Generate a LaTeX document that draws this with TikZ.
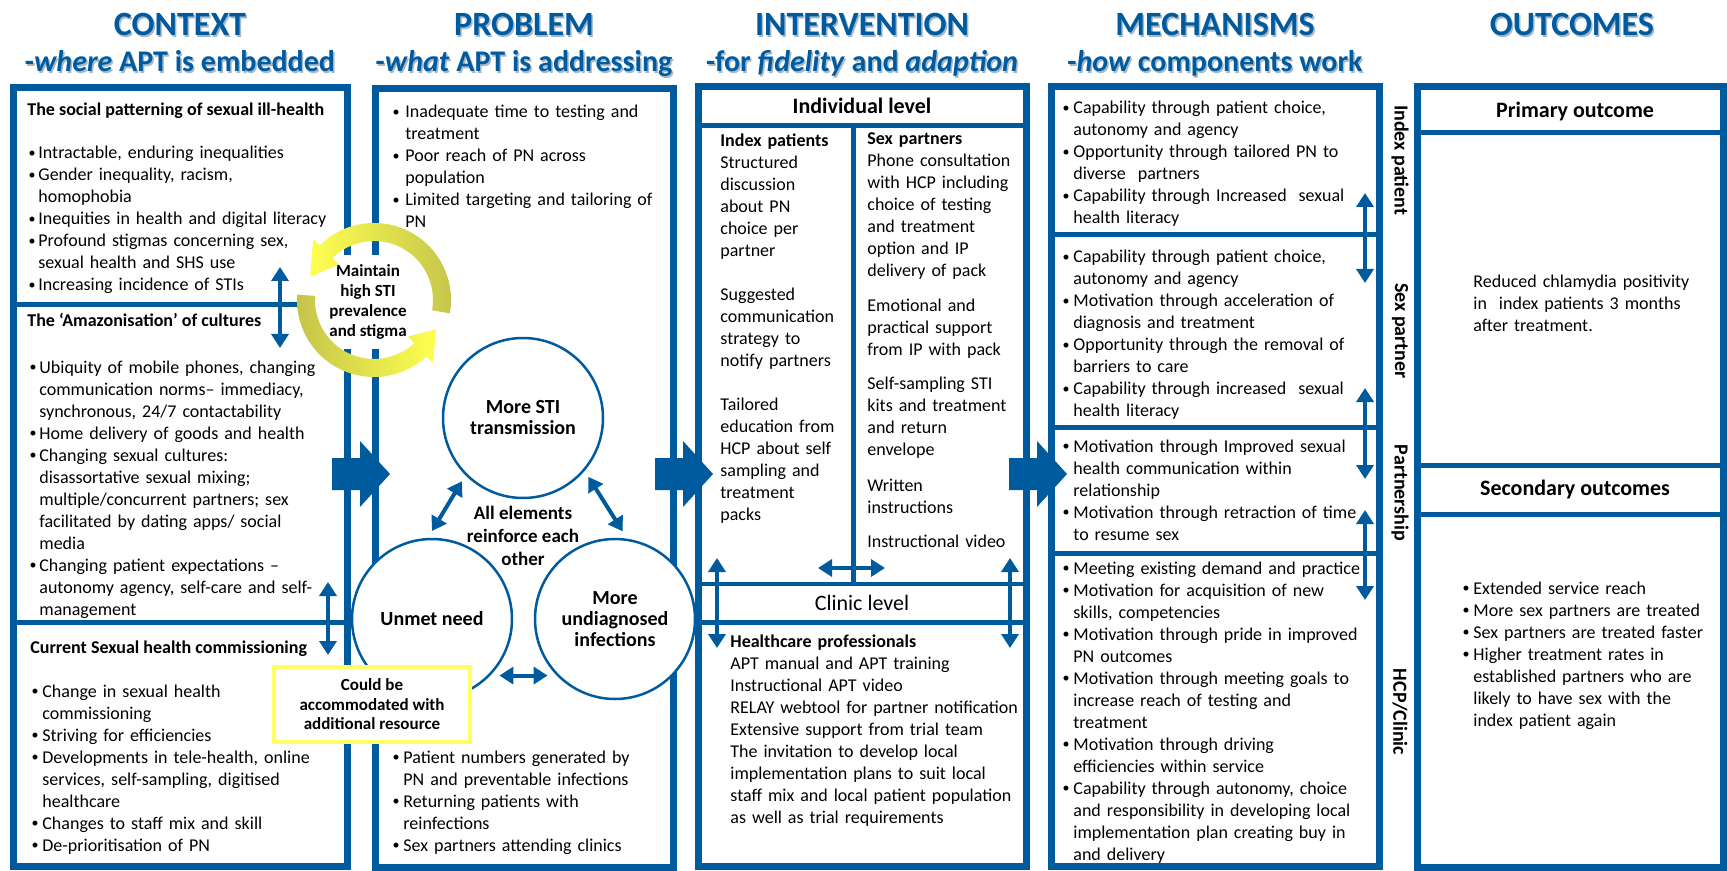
\documentclass[tikz,border=0pt]{standalone}
\usepackage{fontspec}
\setmainfont{Carlito}
\usetikzlibrary{arrows.meta,calc}
\definecolor{apt}{RGB}{0,91,158}
\definecolor{shd}{RGB}{165,185,205}
\definecolor{ylw}{RGB}{255,255,80}
\definecolor{olv}{RGB}{195,195,75}
\definecolor{ybox}{RGB}{255,255,100}
\newlength{\bw}
\newcommand{\Bu}{\makebox[\bw][l]{\hspace{0.6pt}\raisebox{0.2ex}{\fontsize{7}{7}\selectfont\textbullet}}}
\newcommand{\Cn}{\hspace*{\bw}}
\newcommand{\blockarrow}[1]{\fill[apt] (#1) ++(0,-16) -- ++(28,0) -- ++(0,-17) -- ++(30,33) -- ++(-30,33) -- ++(0,-17) -- ++(-28,0) -- cycle;}
\begin{document}
\begin{tikzpicture}[x=0.5pt,y=-0.5pt,
  colbox/.style={draw=apt, line width=3.5pt, inner sep=0pt, outer sep=0pt},
  divider/.style={draw=apt, line width=2.5pt},
  body/.style={font=\fontsize{9}{11}\selectfont, align=left, inner sep=0pt, anchor=base west, text width=220pt},
  bhead/.style={font=\fontsize{9}{11}\selectfont\bfseries, inner sep=0pt, anchor=base west},
  lvl/.style={font=\fontsize{11}{13}\selectfont, inner sep=0pt, anchor=base},
  title/.style={font=\fontsize{17}{20}\selectfont\bfseries, text=apt, inner sep=0pt, anchor=base},
  subtitle/.style={font=\fontsize{15}{18}\selectfont\bfseries, text=apt, inner sep=0pt, anchor=base},
  shadow/.style={text=shd},
  circ/.style={circle, draw=apt, line width=1.25pt, fill=white, minimum size=80pt, inner sep=0pt, outer sep=4pt, align=center, font=\fontsize{10}{10.5}\selectfont\bfseries},
  dbl/.style={draw=apt, line width=2pt, {Triangle[length=7pt,width=8.5pt]}-{Triangle[length=7pt,width=8.5pt]}},
  side/.style={rotate=-90, font=\fontsize{10}{12}\selectfont\bfseries, inner sep=0pt},
  bulw/.style={execute at begin node={\setlength{\bw}{#1}}},
]
\fill[white] (0,0) rectangle (1727,871);
\useasboundingbox (0,0) rectangle (1727,871);

% ---------- titles (shadow, then text) ----------
\node[title, shadow] (t1s) at (181.5,37.5) {CONTEXT};
\node[subtitle, shadow] (s1s) at (181.5,73.5) {-\textit{where} APT is embedded};
\node[title, shadow] (t2s) at (525.5,37.5) {PROBLEM};
\node[subtitle, shadow] (s2s) at (525.5,73.5) {-\textit{what} APT is addressing};
\node[title, shadow] (t3s) at (863.5,37.5) {INTERVENTION};
\node[subtitle, shadow] (s3s) at (863.5,73.5) {-for \textit{fidelity} and \textit{adaption}};
\node[title, shadow] (t4s) at (1216.5,37.5) {MECHANISMS};
\node[subtitle, shadow] (s4s) at (1216.5,73.5) {-\textit{how} components work};
\node[title, shadow] (t5s) at (1573.5,37.5) {OUTCOMES};
\node[title] (t1) at (180,36) {CONTEXT};
\node[subtitle] (s1) at (180,72) {-\textit{where} APT is embedded};
\node[title] (t2) at (524,36) {PROBLEM};
\node[subtitle] (s2) at (524,72) {-\textit{what} APT is addressing};
\node[title] (t3) at (862,36) {INTERVENTION};
\node[subtitle] (s3) at (862,72) {-for \textit{fidelity} and \textit{adaption}};
\node[title] (t4) at (1215,36) {MECHANISMS};
\node[subtitle] (s4) at (1215,72) {-\textit{how} components work};
\node[title] (t5) at (1572,36) {OUTCOMES};

% ---------- column boxes ----------
\node[colbox, minimum width=167pt, minimum height=389.5pt] (ctx) at (180.5,477) {};
\node[colbox, minimum width=149pt, minimum height=389.5pt] (prb) at (524.5,478) {};
\node[colbox, minimum width=164pt, minimum height=390pt] (int) at (862.5,476.5) {};
\node[colbox, minimum width=164pt, minimum height=390pt] (mec) at (1215.5,476.5) {};
\node[colbox, minimum width=153pt, minimum height=390.5pt] (out) at (1570,477) {};

% ---------- dividers ----------
\draw[divider] (16,304.5) -- (347,304.5);
\draw[divider] (16,622.5) -- (358,622.5);
\draw[divider] (702,125.5) -- (1023,125.5);
\draw[divider] (853.5,128) -- (853.5,582);
\draw[draw=apt, line width=2pt] (702,583.5) -- (1023,583.5);
\draw[divider] (702,622.5) -- (1023,622.5);
\draw[divider] (1055,234.5) -- (1376,234.5);
\draw[divider] (1055,427.5) -- (1376,427.5);
\draw[divider] (1055,553.5) -- (1376,553.5);
\draw[divider] (1421,132.5) -- (1720,132.5);
\draw[divider] (1421,465.5) -- (1720,465.5);
\draw[divider] (1421,514.5) -- (1720,514.5);

% ---------- CONTEXT text ----------
\node[bhead] (ch1) at (27,116) {The social patterning of sexual ill-health};
\node[body, bulw=5.5pt] (cb1) at (27,159) {\Bu Intractable, enduring inequalities\\
\Bu Gender inequality, racism,\\
\Cn homophobia\\
\Bu Inequities in health and digital literacy\\
\Bu Profound stigmas concerning sex,\\
\Cn sexual health and SHS use\\
\Bu Increasing incidence of STIs};
\node[bhead] (ch2) at (27,327) {The ‘Amazonisation’ of cultures};
\node[body, bulw=5.5pt] (cb2) at (28,373) {\Bu Ubiquity of mobile phones, changing\\
\Cn communication norms– immediacy,\\
\Cn synchronous, 24/7 contactability\\
\Bu Home delivery of goods and health\\
\Bu Changing sexual cultures:\\
\Cn disassortative sexual mixing;\\
\Cn multiple/concurrent partners; sex\\
\Cn facilitated by dating apps/ social\\
\Cn media\\
\Bu Changing patient expectations –\\
\Cn autonomy agency, self-care and self-\\
\Cn management};
\node[bhead] (ch3) at (30,653) {Current Sexual health commissioning};
\node[body, bulw=6pt] (cb3) at (30,697) {\Bu Change in sexual health\\
\Cn commissioning\\
\Bu Striving for efficiencies\\
\Bu Developments in tele-health, online\\
\Cn services, self-sampling, digitised\\
\Cn healthcare\\
\Bu Changes to staff mix and skill\\
\Bu De-prioritisation of PN};

% ---------- PROBLEM text ----------
\node[body, bulw=7pt] (pb1) at (391,118) {\Bu Inadequate time to testing and\\
\Cn treatment\\
\Bu Poor reach of PN across\\
\Cn population\\
\Bu Limited targeting and tailoring of\\
\Cn PN};
\node[body, bulw=6pt] (pb2) at (391,763) {\Bu Patient numbers generated by\\
\Cn PN and preventable infections\\
\Bu Returning patients with\\
\Cn reinfections\\
\Bu Sex partners attending clinics};

% ---------- INTERVENTION text ----------
\node[lvl, font=\fontsize{11}{13}\selectfont\bfseries] (ind) at (862,114) {Individual level};
\node[body] (ip) at (720,147) {\textbf{Index patients}\\
Structured\\ discussion\\ about PN\\ choice per\\ partner\\[11pt]
Suggested\\ communication\\ strategy to\\ notify partners\\[11pt]
Tailored\\ education from\\ HCP about self\\ sampling and\\ treatment\\ packs};
\node[body] (sp) at (867,145) {\textbf{Sex partners}\\
Phone consultation\\ with HCP including\\ choice of testing\\ and treatment\\ option and IP\\ delivery of pack\\[6.5pt]
Emotional and\\ practical support\\ from IP with pack\\[6pt]
Self-sampling STI\\ kits and treatment\\ and return\\ envelope\\[7pt]
Written\\ instructions\\[6pt]
Instructional video};
\node[lvl] (cln) at (862,610) {Clinic level};
\node[body] (hcp) at (730,647) {\textbf{Healthcare professionals}\\
APT manual and APT training\\
Instructional APT video\\
RELAY webtool for partner notification\\
Extensive support from trial team\\
The invitation to develop local\\
implementation plans to suit local\\
staff mix and local patient population\\
as well as trial requirements};

% ---------- MECHANISMS text ----------
\node[body, bulw=6pt] (m1) at (1061,114) {\Bu Capability through patient choice,\\
\Cn autonomy and agency\\
\Bu Opportunity through tailored PN to\\
\Cn diverse\ \ partners\\
\Bu Capability through Increased\ \ sexual\\
\Cn health literacy};
\node[body, bulw=6pt] (m2) at (1061,263) {\Bu Capability through patient choice,\\
\Cn autonomy and agency\\
\Bu Motivation through acceleration of\\
\Cn diagnosis and treatment\\
\Bu Opportunity through the removal of\\
\Cn barriers to care\\
\Bu Capability through increased\ \ sexual\\
\Cn health literacy};
\node[body, bulw=6pt] (m3) at (1061,452) {\Bu Motivation through Improved sexual\\
\Cn health communication within\\
\Cn relationship\\
\Bu Motivation through retraction of time\\
\Cn to resume sex};
\node[body, bulw=6pt] (m4) at (1061,574) {\Bu Meeting existing demand and practice\\
\Bu Motivation for acquisition of new\\
\Cn skills, competencies\\
\Bu Motivation through pride in improved\\
\Cn PN outcomes\\
\Bu Motivation through meeting goals to\\
\Cn increase reach of testing and\\
\Cn treatment\\
\Bu Motivation through driving\\
\Cn efficiencies within service\\
\Bu Capability through autonomy, choice\\
\Cn and responsibility in developing local\\
\Cn implementation plan creating buy in\\
\Cn and delivery};

\node[side] (l1) at (1400,160) {Index patient};
\node[side] (l2) at (1400,331) {Sex partner};
\node[side] (l3) at (1400,493) {Partnership};
\node[side] (l4) at (1400,712) {HCP/Clinic};

% ---------- OUTCOMES text ----------
\node[lvl, font=\fontsize{11}{13}\selectfont\bfseries] (po) at (1575,118) {Primary outcome};
\node[body] (pot) at (1473,288) {Reduced chlamydia positivity\\
in\ \ index patients 3 months\\
after treatment.};
\node[lvl, font=\fontsize{11}{13}\selectfont\bfseries] (so) at (1575,495) {Secondary outcomes};
\node[body, bulw=6pt] (sot) at (1461,594) {\Bu Extended service reach\\
\Bu More sex partners are treated\\
\Bu Sex partners are treated faster\\
\Bu Higher treatment rates in\\
\Cn established partners who are\\
\Cn likely to have sex with the\\
\Cn index patient again};

% ---------- cycle: maintain ----------
\node[fill=white, inner sep=0pt, minimum width=55pt, minimum height=47pt, align=center,
      font=\fontsize{8.5}{10}\selectfont\bfseries] (mnt) at (368,302) {Maintain\\high STI\\prevalence\\and stigma};
\coordinate (C) at (374,300);
\shade[left color=ylw, middle color=ylw, right color=olv]
  ($(C)+(10:77)$) arc[start angle=10, end angle=-135, radius=77]
  -- ($(C)+(-135:86)$) -- ($(C)+(-160:68)$) -- ($(C)+(-135:50)$) -- ($(C)+(-135:59)$)
  arc[start angle=-135, end angle=10, radius=59] -- cycle;
\shade[left color=olv, middle color=ylw, right color=ylw]
  ($(C)+(-176:77)$) arc[start angle=-176, end angle=-313, radius=77]
  -- ($(C)+(-313:86)$) -- ($(C)+(-335:69)$) -- ($(C)+(-313:50)$) -- ($(C)+(-313:59)$)
  arc[start angle=-313, end angle=-176, radius=59] -- cycle;

% ---------- problem circles ----------
\node[circ] (T) at (523,418) {More STI\\transmission};
\node[circ] (L) at (432,619) {Unmet need};
\node[circ] (R) at (615,619) {More\\undiagnosed\\infections};
\node[align=center, inner sep=0pt, font=\fontsize{9.5}{11.5}\selectfont\bfseries] (all) at (523,536) {All elements\\reinforce each\\other};
\draw[dbl] (L.90) -- (T.226);
\draw[dbl] (T.318) -- (R.85);
\draw[dbl] (L.320) -- (R.220);

% ---------- yellow box ----------
\node[draw=ybox, line width=2pt, fill=white, minimum width=98pt, minimum height=37.5pt, inner sep=0pt,
      align=center, font=\fontsize{8.5}{9.75}\selectfont\bfseries] (cba) at (372,704.5) {Could be\\accommodated with\\additional resource};

% ---------- block arrows ----------
\coordinate (ba1) at (332,474);
\coordinate (ba2) at (655,474);
\coordinate (ba3) at (1009,474);
\blockarrow{ba1}
\blockarrow{ba2}
\blockarrow{ba3}

% ---------- double arrows ----------
\coordinate (c1a) at (280,267); \coordinate (c1b) at (280,348);
\coordinate (c2a) at (328,582); \coordinate (c2b) at (328,655);
\draw[dbl] (c1a) -- (c1b);
\draw[dbl] (c2a) -- (c2b);
\coordinate (i1a) at (717,558); \coordinate (i1b) at (717,648);
\coordinate (i2a) at (1010,558); \coordinate (i2b) at (1010,648);
\coordinate (i3a) at (818,568); \coordinate (i3b) at (885,568);
\draw[dbl] (i1a) -- (i1b);
\draw[dbl] (i2a) -- (i2b);
\draw[dbl] (i3a) -- (i3b);
\coordinate (m1a) at (1365,193); \coordinate (m1b) at (1365,283);
\coordinate (m2a) at (1365,388); \coordinate (m2b) at (1365,479);
\coordinate (m3a) at (1365,510); \coordinate (m3b) at (1365,600);
\draw[dbl] (m1a) -- (m1b);
\draw[dbl] (m2a) -- (m2b);
\draw[dbl] (m3a) -- (m3b);
\end{tikzpicture}
\end{document}
